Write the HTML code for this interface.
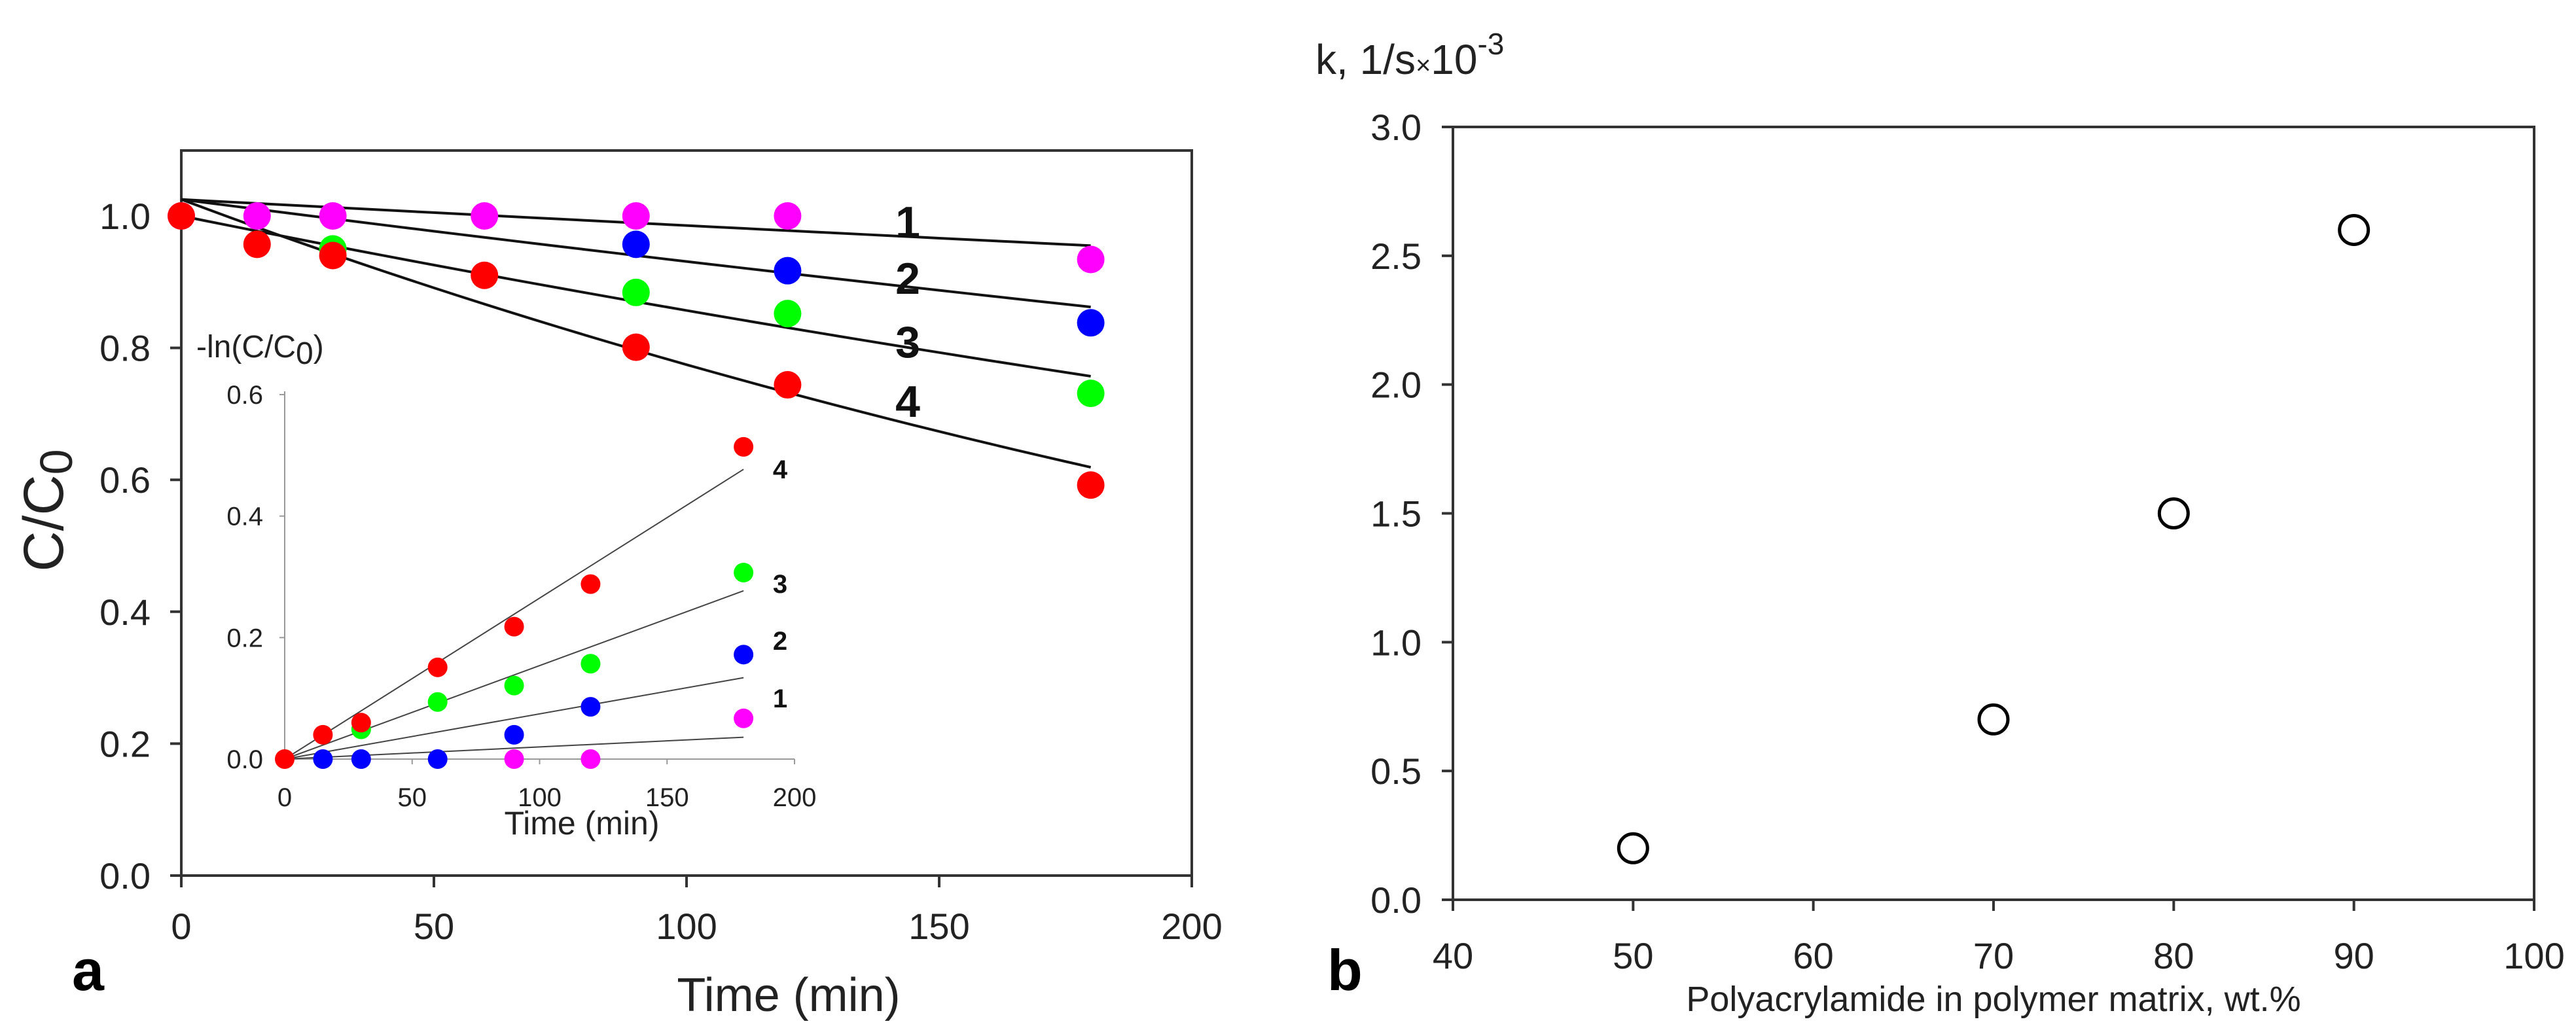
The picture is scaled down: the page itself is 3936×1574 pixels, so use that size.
<!DOCTYPE html>
<html><head><meta charset="utf-8"><style>
html,body{margin:0;padding:0;background:#fff;}
svg{display:block;font-family:"Liberation Sans",Arial,sans-serif;}
</style></head><body>
<svg id="fig" width="3936" height="1574" viewBox="0 0 3936 1574" xmlns="http://www.w3.org/2000/svg">
<rect width="3936" height="1574" fill="#fff"/>
<g id="pa"></g>
<g id="pb"></g>
</svg>
<script>
// ---- Panel a data ----
const times = [0, 15, 30, 60, 90, 120, 180];
const s1 = [1.0, 1.0, 1.0, 1.0, 1.0, 1.0, 0.934];
const s2 = [null, null, null, null, 0.957, 0.917, 0.838];
const s3 = [null, null, 0.95, null, 0.884, 0.852, 0.731];
const s4 = [1.0, 0.957, 0.940, 0.910, 0.801, 0.744, 0.592];
const fitStart = [1.025, 1.025, 1.0, 1.025];
const fitEnd = [0.955, 0.862, 0.757, 0.619];
const mainXTicks = [0, 50, 100, 150, 200];
const mainYTicks = [0.0, 0.2, 0.4, 0.6, 0.8, 1.0];
const mainYTickLabels = ["0.0", "0.2", "0.4", "0.6", "0.8", "1.0"];
// inset data
const i1 = [null, null, null, null, 0.0, 0.0, 0.067];
const i2 = [null, 0.0, 0.0, 0.0, 0.040, 0.086, 0.172];
const i3 = [null, null, 0.049, 0.094, 0.121, 0.157, 0.307];
const i4 = [0.0, 0.040, 0.060, 0.151, 0.218, 0.288, 0.514];
const insetFitEnd = [0.036, 0.134, 0.277, 0.477];
const insetXTicks = [0, 50, 100, 150, 200];
const insetYTicks = [0.0, 0.2, 0.4, 0.6];
const insetYTickLabels = ["0.0", "0.2", "0.4", "0.6"];
const seriesColors = ["#ff00ff", "#0000ff", "#00ff00", "#ff0000"];
const seriesLabels = ["1", "2", "3", "4"];
// ---- Panel b data ----
const pam = [50, 70, 80, 90];
const kVals = [0.2, 0.7, 1.5, 2.6];
const bXTicks = [40, 50, 60, 70, 80, 90, 100];
const bYTicks = [0.0, 0.5, 1.0, 1.5, 2.0, 2.5, 3.0];
const bYTickLabels = ["0.0", "0.5", "1.0", "1.5", "2.0", "2.5", "3.0"];

const NS = "http://www.w3.org/2000/svg";
function mk(parent, tag, attrs, text) {
  const e = document.createElementNS(NS, tag);
  for (const k in attrs) e.setAttribute(k, attrs[k]);
  if (text !== undefined) e.textContent = text;
  parent.appendChild(e);
  return e;
}
const pa = document.getElementById('pa');
const pb = document.getElementById('pb');

// Main axes a
const Y0 = 1338, YS = 1008;
const ax = v => 277 + v * (1821 - 277) / 200;
const ay = v => Y0 - v * YS;
let e;
e = mk(pa, 'rect', {x: 277, y: 230, width: 1821 - 277, height: Y0 - 230, fill: 'none', stroke: '#333', 'stroke-width': 4});


mainXTicks.forEach(t => {
  e = mk(pa, 'line', {x1: ax(t), x2: ax(t), y1: Y0, y2: Y0 + 18, stroke: '#333', 'stroke-width': 4});
  
  
  e = mk(pa, 'text', {x: ax(t), y: 1435, 'font-size': 56, 'text-anchor': 'middle', fill: '#222'}, String(t));
  
  
});
mainYTicks.forEach((t, i) => {
  e = mk(pa, 'line', {x1: 260, x2: 277, y1: ay(t), y2: ay(t), stroke: '#333', 'stroke-width': 4});
  
  
  e = mk(pa, 'text', {x: 230, y: ay(t) + 20, 'font-size': 56, 'text-anchor': 'end', fill: '#222'}, mainYTickLabels[i]);
  
  
});
e = mk(pa, 'text', {x: 1205, y: 1545, 'font-size': 72, 'text-anchor': 'middle', fill: '#222'}, 'Time (min)');


e = mk(pa, 'text', {transform: 'translate(96,780) rotate(-90)', 'font-size': 86, 'text-anchor': 'middle', fill: '#222'});


mk(e, 'tspan', {}, 'C/C');
mk(e, 'tspan', {dy: 14, 'font-size': 70}, '0');
e = mk(pa, 'text', {x: 110, y: 1513, 'font-size': 88, 'font-weight': 'bold', fill: '#000'}, 'a');



// fit curves (exponential decay)
fitStart.forEach((c0, i) => {
  const k = Math.log(c0 / fitEnd[i]) / 180;
  let d = '';
  for (let t = 0; t <= 180; t += 5) d += (t ? 'L' : 'M') + ax(t) + ',' + ay(c0 * Math.exp(-k * t));
  e = mk(pa, 'path', {d: d, fill: 'none', stroke: '#111', 'stroke-width': 4});
  
  
});
[s1, s2, s3, s4].forEach((s, si) => {
  s.forEach((v, j) => {
    if (v === null) return;
    e = mk(pa, 'circle', {cx: ax(times[j]), cy: ay(v), r: 21, fill: seriesColors[si]});
    
    
  });
});
const lblY = [339, 425, 522, 613];
seriesLabels.forEach((l, i) => {
  e = mk(pa, 'text', {x: 1387, y: lblY[i] + 24, 'font-size': 68, 'font-weight': 'bold', 'text-anchor': 'middle', fill: '#111'}, l);
  
  
});

// Inset
const ix = v => 435 + v * (1214 - 435) / 200;
const iy = v => 1160 - v * (1160 - 603) / 0.6;
e = mk(pa, 'line', {x1: 435, x2: 435, y1: 598, y2: 1160, stroke: '#999', 'stroke-width': 2});


e = mk(pa, 'line', {x1: 428, x2: 1214, y1: 1160, y2: 1160, stroke: '#999', 'stroke-width': 2});


insetXTicks.forEach(t => {
  e = mk(pa, 'line', {x1: ix(t), x2: ix(t), y1: 1160, y2: 1168, stroke: '#999', 'stroke-width': 2});
  
  
  e = mk(pa, 'text', {x: ix(t), y: 1232, 'font-size': 40, 'text-anchor': 'middle', fill: '#222'}, String(t));
  
  
});
insetYTicks.forEach((t, i) => {
  e = mk(pa, 'line', {x1: 427, x2: 435, y1: iy(t), y2: iy(t), stroke: '#999', 'stroke-width': 2});
  
  
  e = mk(pa, 'text', {x: 402, y: iy(t) + 14, 'font-size': 40, 'text-anchor': 'end', fill: '#222'}, insetYTickLabels[i]);
  
  
});
e = mk(pa, 'text', {x: 889, y: 1275, 'font-size': 50, 'text-anchor': 'middle', fill: '#222'}, 'Time (min)');


e = mk(pa, 'text', {x: 300, y: 546, 'font-size': 48, fill: '#222'});


mk(e, 'tspan', {}, '-ln(C/C');
mk(e, 'tspan', {dy: 10}, '0');
mk(e, 'tspan', {dy: -10}, ')');
insetFitEnd.forEach((v, i) => {
  e = mk(pa, 'line', {x1: ix(0), y1: iy(0), x2: ix(180), y2: iy(v), stroke: '#444', 'stroke-width': 2});
  
  
});
[i1, i2, i3, i4].forEach((s, si) => {
  s.forEach((v, j) => {
    if (v === null) return;
    e = mk(pa, 'circle', {cx: ix(times[j]), cy: iy(v), r: 15, fill: seriesColors[si]});
    
    
  });
});
const ilblY = [1067, 979, 892, 717];
seriesLabels.forEach((l, i) => {
  e = mk(pa, 'text', {x: 1192, y: ilblY[i] + 14, 'font-size': 40, 'font-weight': 'bold', 'text-anchor': 'middle', fill: '#111'}, l);
  
  
});

// Panel b
const BT = 194, BB = 1375;
const bx = v => 2220 + (v - 40) * (3872 - 2220) / 60;
const by = v => BB - v * (BB - BT) / 3;
e = mk(pb, 'rect', {x: 2220, y: BT, width: 3872 - 2220, height: BB - BT, fill: 'none', stroke: '#333', 'stroke-width': 4});


bXTicks.forEach(t => {
  e = mk(pb, 'line', {x1: bx(t), x2: bx(t), y1: BB, y2: BB + 17, stroke: '#333', 'stroke-width': 4});
  
  
  e = mk(pb, 'text', {x: bx(t), y: 1480, 'font-size': 56, 'text-anchor': 'middle', fill: '#222'}, String(t));
  
  
});
bYTicks.forEach((t, i) => {
  e = mk(pb, 'line', {x1: 2203, x2: 2220, y1: by(t), y2: by(t), stroke: '#333', 'stroke-width': 4});
  
  
  e = mk(pb, 'text', {x: 2172, y: by(t) + 20, 'font-size': 56, 'text-anchor': 'end', fill: '#222'}, bYTickLabels[i]);
  
  
});
pam.forEach((p, i) => {
  e = mk(pb, 'circle', {cx: bx(p), cy: by(kVals[i]), r: 22, fill: 'none', stroke: '#000', 'stroke-width': 5});
  
  
});
e = mk(pb, 'text', {x: 3046, y: 1545, 'font-size': 54, 'text-anchor': 'middle', fill: '#222'}, 'Polyacrylamide in polymer matrix, wt.%');


e = mk(pb, 'text', {x: 2010, y: 113, 'font-size': 64, fill: '#222'});


mk(e, 'tspan', {}, 'k, 1/s');
mk(e, 'tspan', {'font-size': 40}, '×');
mk(e, 'tspan', {}, '10');
mk(e, 'tspan', {dy: -30, 'font-size': 46}, '-3');
e = mk(pb, 'text', {x: 2028, y: 1513, 'font-size': 88, 'font-weight': 'bold', fill: '#000'}, 'b');


</script>
</body></html>
